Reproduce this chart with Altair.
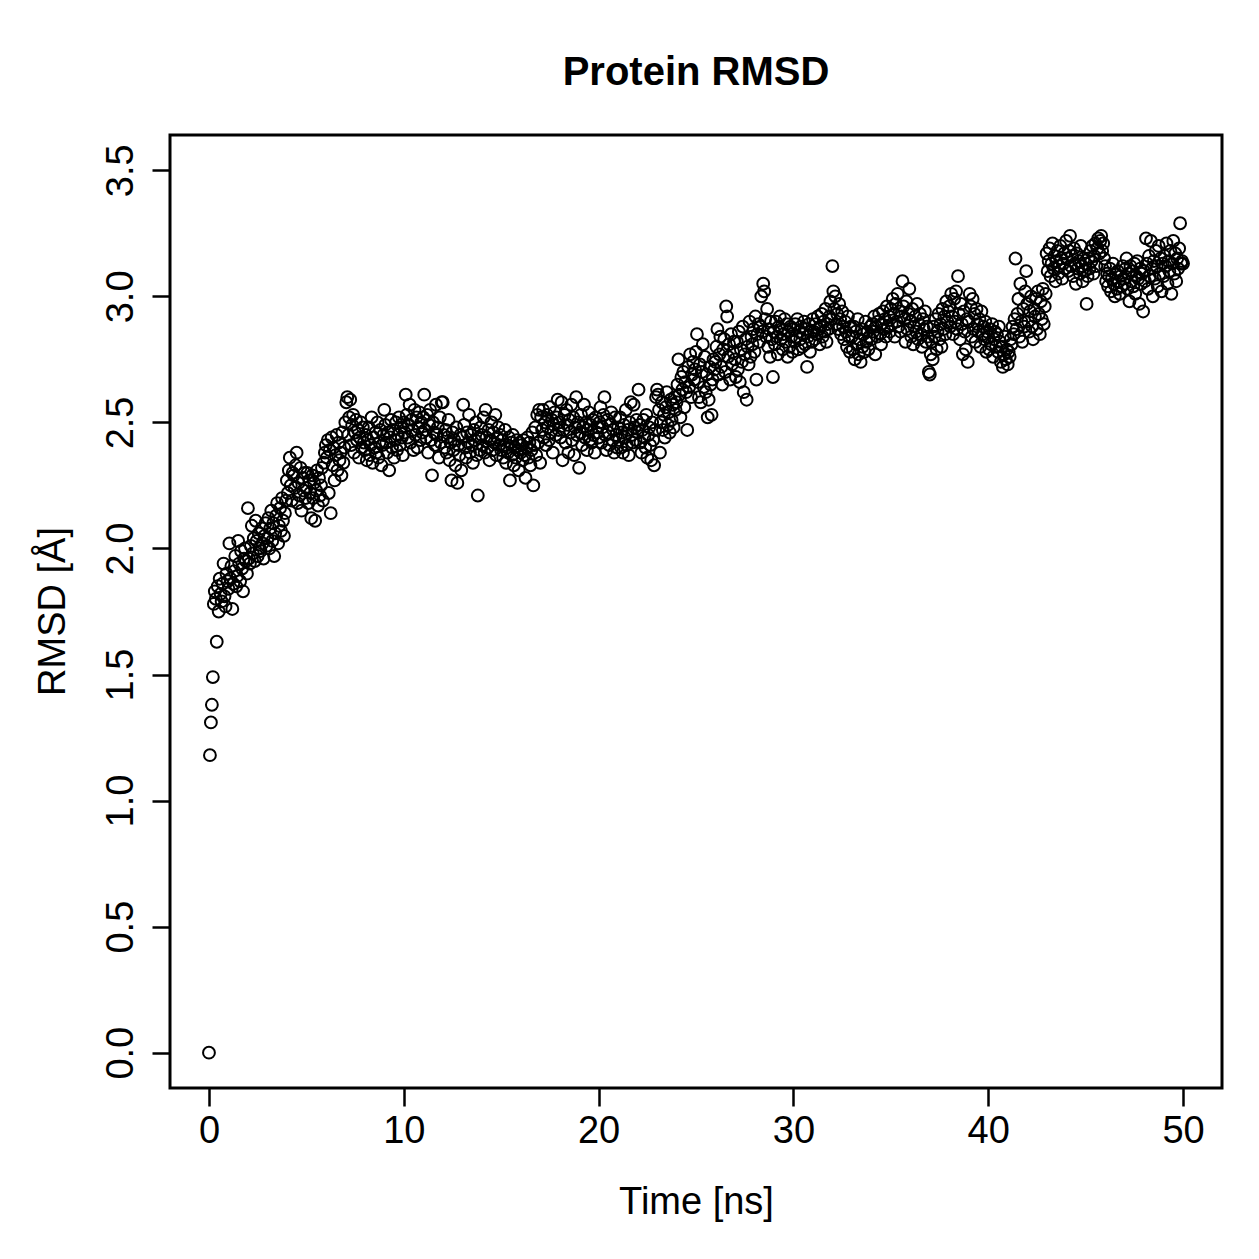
import altair as alt
import pandas as pd

rmsd_rows = [
    [0.00, 1.18, 1.31, 1.38, 1.49, 1.78, 1.83, 1.80, 1.63, 1.85, 1.75, 1.88, 1.82, 1.79, 1.86, 1.94, 1.81, 1.77, 1.90, 1.87],
    [1.84, 2.02, 1.88, 1.93, 1.76, 1.86, 1.91, 1.97, 1.85, 1.89, 2.03, 1.94, 1.87, 1.99, 1.92, 1.83, 1.96, 2.00, 1.95, 1.90],
    [2.16, 1.96, 1.94, 2.01, 2.09, 1.98, 2.04, 1.95, 2.11, 2.03, 1.97, 2.06, 2.00, 1.99, 2.08, 2.02, 1.96, 2.05, 2.10, 2.01],
    [2.04, 2.12, 2.00, 2.08, 2.15, 2.03, 2.10, 1.97, 2.06, 2.13, 2.18, 2.02, 2.09, 2.16, 2.07, 2.20, 2.11, 2.05, 2.14, 2.19],
    [2.27, 2.22, 2.31, 2.36, 2.25, 2.19, 2.30, 2.29, 2.24, 2.33, 2.38, 2.18, 2.26, 2.21, 2.32, 2.15, 2.28, 2.23, 2.30, 2.20],
    [2.24, 2.30, 2.18, 2.27, 2.22, 2.12, 2.29, 2.20, 2.26, 2.11, 2.23, 2.31, 2.17, 2.28, 2.21, 2.25, 2.32, 2.19, 2.34, 2.38],
    [2.41, 2.36, 2.43, 2.22, 2.39, 2.14, 2.44, 2.33, 2.40, 2.27, 2.37, 2.45, 2.31, 2.42, 2.35, 2.38, 2.29, 2.46, 2.34, 2.40],
    [2.50, 2.58, 2.60, 2.45, 2.52, 2.59, 2.41, 2.49, 2.53, 2.38, 2.46, 2.51, 2.43, 2.47, 2.36, 2.44, 2.50, 2.40, 2.48, 2.42],
    [2.39, 2.45, 2.35, 2.43, 2.48, 2.37, 2.41, 2.52, 2.34, 2.44, 2.40, 2.46, 2.38, 2.50, 2.36, 2.42, 2.47, 2.33, 2.41, 2.45],
    [2.55, 2.49, 2.42, 2.38, 2.46, 2.31, 2.44, 2.51, 2.40, 2.47, 2.36, 2.43, 2.50, 2.39, 2.45, 2.52, 2.41, 2.48, 2.44, 2.37],
    [2.50, 2.46, 2.61, 2.53, 2.44, 2.49, 2.57, 2.42, 2.51, 2.47, 2.39, 2.55, 2.45, 2.52, 2.40, 2.48, 2.54, 2.43, 2.50, 2.46],
    [2.52, 2.61, 2.47, 2.44, 2.53, 2.38, 2.49, 2.55, 2.43, 2.29, 2.50, 2.46, 2.41, 2.57, 2.45, 2.48, 2.36, 2.52, 2.42, 2.58],
    [2.58, 2.45, 2.40, 2.47, 2.38, 2.44, 2.51, 2.35, 2.42, 2.27, 2.46, 2.39, 2.43, 2.33, 2.48, 2.26, 2.41, 2.37, 2.45, 2.31],
    [2.44, 2.57, 2.49, 2.40, 2.36, 2.46, 2.42, 2.53, 2.38, 2.45, 2.41, 2.34, 2.47, 2.43, 2.50, 2.37, 2.21, 2.44, 2.39, 2.48],
    [2.45, 2.41, 2.52, 2.38, 2.55, 2.44, 2.40, 2.47, 2.35, 2.43, 2.50, 2.39, 2.46, 2.42, 2.53, 2.37, 2.44, 2.48, 2.41, 2.45],
    [2.39, 2.43, 2.36, 2.41, 2.47, 2.34, 2.40, 2.38, 2.44, 2.27, 2.42, 2.37, 2.45, 2.33, 2.40, 2.36, 2.43, 2.39, 2.31, 2.42],
    [2.38, 2.41, 2.35, 2.43, 2.37, 2.28, 2.40, 2.44, 2.36, 2.42, 2.33, 2.39, 2.46, 2.25, 2.41, 2.48, 2.37, 2.53, 2.42, 2.55],
    [2.34, 2.52, 2.47, 2.55, 2.44, 2.50, 2.41, 2.53, 2.48, 2.43, 2.56, 2.46, 2.51, 2.38, 2.49, 2.54, 2.45, 2.52, 2.59, 2.47],
    [2.50, 2.44, 2.58, 2.35, 2.47, 2.53, 2.42, 2.55, 2.49, 2.38, 2.51, 2.46, 2.57, 2.43, 2.52, 2.37, 2.48, 2.60, 2.45, 2.50],
    [2.32, 2.46, 2.53, 2.41, 2.48, 2.57, 2.44, 2.50, 2.39, 2.47, 2.54, 2.43, 2.49, 2.42, 2.51, 2.45, 2.38, 2.52, 2.46, 2.48],
    [2.44, 2.50, 2.56, 2.42, 2.48, 2.53, 2.60, 2.45, 2.39, 2.51, 2.46, 2.41, 2.49, 2.54, 2.43, 2.47, 2.38, 2.52, 2.45, 2.40],
    [2.48, 2.43, 2.52, 2.40, 2.46, 2.38, 2.49, 2.44, 2.55, 2.41, 2.47, 2.37, 2.50, 2.58, 2.45, 2.42, 2.57, 2.48, 2.43, 2.51],
    [2.46, 2.63, 2.49, 2.42, 2.38, 2.47, 2.51, 2.44, 2.40, 2.53, 2.36, 2.45, 2.48, 2.41, 2.35, 2.50, 2.43, 2.33, 2.47, 2.60],
    [2.63, 2.61, 2.55, 2.38, 2.50, 2.58, 2.47, 2.53, 2.44, 2.56, 2.62, 2.49, 2.54, 2.46, 2.59, 2.51, 2.57, 2.48, 2.60, 2.55],
    [2.58, 2.65, 2.75, 2.61, 2.52, 2.68, 2.63, 2.70, 2.56, 2.66, 2.62, 2.47, 2.72, 2.64, 2.77, 2.60, 2.69, 2.74, 2.67, 2.71],
    [2.78, 2.85, 2.66, 2.60, 2.73, 2.58, 2.70, 2.81, 2.64, 2.76, 2.62, 2.69, 2.52, 2.59, 2.72, 2.65, 2.53, 2.67, 2.75, 2.71],
    [2.74, 2.80, 2.87, 2.69, 2.77, 2.84, 2.72, 2.65, 2.79, 2.83, 2.70, 2.96, 2.92, 2.76, 2.81, 2.67, 2.85, 2.73, 2.78, 2.82],
    [2.75, 2.68, 2.82, 2.71, 2.86, 2.66, 2.79, 2.74, 2.88, 2.62, 2.77, 2.83, 2.59, 2.80, 2.73, 2.90, 2.76, 2.84, 2.81, 2.87],
    [2.78, 2.92, 2.67, 2.85, 2.89, 2.82, 2.88, 3.00, 2.86, 3.05, 3.02, 2.91, 2.84, 2.95, 2.80, 2.87, 2.76, 2.90, 2.83, 2.68],
    [2.86, 2.81, 2.90, 2.84, 2.77, 2.88, 2.92, 2.83, 2.87, 2.79, 2.85, 2.91, 2.82, 2.89, 2.76, 2.86, 2.80, 2.88, 2.84, 2.78],
    [2.87, 2.82, 2.89, 2.84, 2.91, 2.79, 2.86, 2.83, 2.88, 2.80, 2.85, 2.90, 2.81, 2.87, 2.72, 2.84, 2.89, 2.78, 2.86, 2.82],
    [2.91, 2.86, 2.83, 2.89, 2.85, 2.92, 2.87, 2.81, 2.88, 2.93, 2.84, 2.90, 2.86, 2.95, 2.82, 2.89, 2.87, 2.92, 2.98, 2.91],
    [3.12, 3.02, 2.95, 3.00, 2.89, 2.93, 2.87, 2.97, 2.91, 2.85, 2.94, 2.88, 2.83, 2.90, 2.86, 2.80, 2.92, 2.84, 2.78, 2.88],
    [2.84, 2.79, 2.88, 2.75, 2.86, 2.81, 2.91, 2.77, 2.83, 2.74, 2.87, 2.80, 2.85, 2.78, 2.90, 2.82, 2.86, 2.79, 2.84, 2.88],
    [2.83, 2.89, 2.86, 2.92, 2.77, 2.88, 2.84, 2.90, 2.93, 2.85, 2.81, 2.89, 2.94, 2.87, 2.91, 2.84, 2.96, 2.88, 2.92, 2.86],
    [2.95, 2.89, 2.99, 2.93, 2.84, 2.97, 2.90, 3.01, 2.88, 2.94, 2.86, 2.92, 3.06, 2.96, 2.91, 2.82, 2.98, 2.87, 2.93, 3.03],
    [2.90, 2.84, 2.95, 2.81, 2.88, 2.92, 2.86, 2.97, 2.83, 2.89, 2.93, 2.85, 2.80, 2.91, 2.87, 2.94, 2.82, 2.88, 2.84, 2.70],
    [2.69, 2.77, 2.82, 2.75, 2.88, 2.84, 2.91, 2.79, 2.86, 2.93, 2.83, 2.89, 2.80, 2.95, 2.87, 2.92, 2.85, 2.98, 2.90, 2.94],
    [2.96, 2.88, 3.01, 2.92, 2.85, 2.99, 2.90, 3.02, 2.87, 3.08, 2.93, 2.83, 2.97, 2.89, 2.77, 2.94, 2.86, 2.79, 2.91, 2.74],
    [2.90, 3.01, 2.96, 2.84, 2.99, 2.87, 2.93, 2.82, 2.95, 2.89, 2.86, 2.91, 2.80, 2.94, 2.85, 2.88, 2.83, 2.90, 2.78, 2.86],
    [2.84, 2.79, 2.87, 2.81, 2.89, 2.76, 2.83, 2.86, 2.80, 2.85, 2.78, 2.88, 2.82, 2.74, 2.80, 2.72, 2.77, 2.84, 2.75, 2.79],
    [2.73, 2.78, 2.76, 2.83, 2.81, 2.88, 2.85, 2.91, 3.15, 2.87, 2.93, 2.99, 2.84, 3.05, 2.90, 2.82, 2.95, 2.88, 3.02, 3.10],
    [2.97, 2.90, 2.86, 2.94, 3.00, 2.88, 2.83, 2.95, 2.92, 2.99, 2.87, 3.02, 2.93, 2.85, 2.98, 2.91, 3.03, 2.89, 2.96, 3.01],
    [3.17, 3.10, 3.14, 3.19, 3.08, 3.13, 3.21, 3.11, 3.16, 3.06, 3.14, 3.18, 3.09, 3.12, 3.20, 3.15, 3.07, 3.13, 3.17, 3.11],
    [3.22, 3.15, 3.10, 3.18, 3.24, 3.12, 3.16, 3.08, 3.19, 3.13, 3.05, 3.17, 3.11, 3.14, 3.09, 3.20, 3.12, 3.06, 3.15, 3.10],
    [3.13, 2.97, 3.08, 3.15, 3.11, 3.18, 3.14, 3.20, 3.09, 3.16, 3.21, 3.12, 3.19, 3.23, 3.17, 3.22, 3.24, 3.18, 3.21, 3.15],
    [3.12, 3.06, 3.09, 3.04, 3.08, 3.11, 3.02, 3.07, 3.13, 3.05, 3.00, 3.09, 3.03, 3.10, 3.06, 3.01, 3.08, 3.04, 3.12, 3.07],
    [3.05, 3.11, 3.15, 3.03, 3.09, 2.98, 3.12, 3.06, 3.10, 3.04, 3.13, 3.01, 3.08, 3.14, 3.07, 2.97, 3.11, 3.05, 3.09, 2.94],
    [3.10, 3.06, 3.23, 3.13, 3.03, 3.16, 3.08, 3.22, 3.11, 3.00, 3.14, 3.07, 3.18, 3.12, 3.04, 3.20, 3.09, 3.15, 3.02, 3.13],
    [3.08, 3.16, 3.12, 3.21, 3.05, 3.14, 3.10, 3.18, 3.01, 3.13, 3.22, 3.09, 3.17, 3.06, 3.15, 3.11, 3.19, 3.29, 3.13, 3.14],
    [3.13],
]
frame_step_ns = 0.05

x_ticks = [0, 10, 20, 30, 40, 50]
y_ticks = [0.0, 0.5, 1.0, 1.5, 2.0, 2.5, 3.0, 3.5]

rmsd = [v for row in rmsd_rows for v in row]
time_ns = [round(i * frame_step_ns, 2) for i in range(len(rmsd))]
df = pd.DataFrame({"time": time_ns, "rmsd": rmsd})

FONT = "Liberation Sans"

chart = alt.Chart(df).mark_point(
    shape="circle", filled=False, color="black", size=140, strokeWidth=2, opacity=1
).encode(
    x=alt.X("time:Q", scale=alt.Scale(domain=[-2, 52], nice=False, zero=False),
            axis=alt.Axis(values=x_ticks, title="Time [ns]", domain=False, grid=False,
                          tickSize=18, tickWidth=2.5, tickColor="black",
                          labelFontSize=38, labelFont=FONT, labelColor="black",
                          labelPadding=6, labelBaseline="top",
                          titleFontSize=38, titleFont=FONT, titleFontWeight="normal",
                          titleColor="black", titleX=526, titleY=125,
                          titleBaseline="alphabetic", titleAlign="center")),
    y=alt.Y("rmsd:Q", scale=alt.Scale(domain=[-0.14, 3.64], nice=False, zero=False),
            axis=alt.Axis(values=y_ticks, format=".1f", title="RMSD [Å]", domain=False, grid=False,
                          tickSize=18, tickWidth=2.5, tickColor="black",
                          labelFontSize=38, labelFont=FONT, labelColor="black",
                          labelAngle=-90, labelAlign="center", labelBaseline="alphabetic",
                          labelPadding=20,
                          titleFontSize=38, titleFont=FONT, titleFontWeight="normal",
                          titleColor="black", titleAngle=-90, titleX=-106, titleY=476,
                          titleBaseline="alphabetic", titleAlign="center")),
).properties(
    width=1052, height=953,
    title=alt.TitleParams("Protein RMSD", font=FONT, fontSize=40, fontWeight="bold",
                          color="black", anchor="middle", offset=42),
    autosize=alt.AutoSizeParams(type="none"),
    padding={"left": 170, "top": 135, "right": 37, "bottom": 171},
).configure(
    background="white",
    view=alt.ViewConfig(stroke="black", strokeWidth=3),
)

chart.save("out.html", embed_options={"renderer": "svg", "actions": False})
